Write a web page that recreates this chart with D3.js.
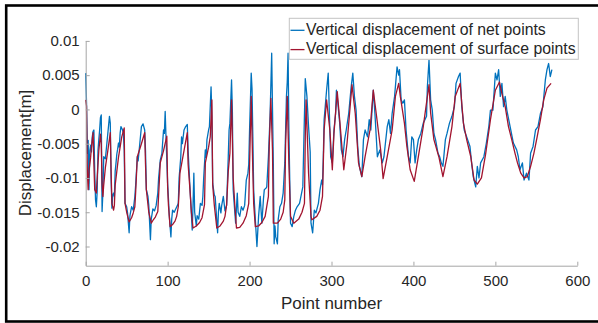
<!DOCTYPE html>
<html>
<head>
<meta charset="utf-8">
<script src="https://cdnjs.cloudflare.com/ajax/libs/d3/7.8.5/d3.min.js"></script>
<style>
body { margin: 0; background: #fff; }
text { font-family: "Liberation Sans", Arial, sans-serif; fill: #262626; }
</style>
</head>
<body>
<svg id="chart" width="598" height="323"></svg>
<script>
// [point number, displacement (m)]
var netPoints = [
  [0,0.0053],[1,0.0010],[2,-0.0064],[3,-0.0045],[4,-0.0117],[5,-0.0060],[6,-0.0052],[7,-0.0062],[8,-0.0040],[9,-0.0032],
  [10,-0.0030],[11,-0.0090],[12,-0.0132],[13,-0.0142],[14,-0.0120],[15,-0.0060],[16,-0.0044],[17,-0.0030],[18,-0.0012],[19,-0.0008],
  [20,-0.0149],[21,-0.0120],[22,-0.0069],[24,-0.0072],[25,-0.0060],[27,-0.0035],[29,-0.0010],[30,-0.0020],[31,-0.0100],[32,-0.0144],
  [33,-0.0125],[34,-0.0122],[35,-0.0127],[36,-0.0090],[37,-0.0078],[38,-0.0065],[39,-0.0058],[40,-0.0049],[41,-0.0055],[42,-0.0035],
  [43,-0.0025],[45,-0.0030],[46,-0.0035],[47,-0.0060],[48,-0.0137],[50,-0.0142],[51,-0.0150],[53,-0.0180],[54,-0.0155],[56,-0.0142],
  [58,-0.0147],[60,-0.0127],[61,-0.0110],[63,-0.0069],[64,-0.0075],[66,-0.0050],[68,-0.0025],[70,-0.0021],[72,-0.0030],[73,-0.0060],
  [74,-0.0117],[76,-0.0127],[77,-0.0140],[79,-0.0190],[80,-0.0160],[82,-0.0145],[84,-0.0148],[86,-0.0140],[88,-0.0122],[89,-0.0100],
  [91,-0.0074],[93,-0.0064],[95,-0.0030],[96,-0.0035],[97,-0.0003],[98,-0.0040],[100,-0.0108],[101,-0.0130],[102,-0.0155],[104,-0.0186],
  [105,-0.0160],[106,-0.0147],[108,-0.0150],[110,-0.0145],[112,-0.0140],[113,-0.0137],[114,-0.0100],[116,-0.0070],[117,-0.0040],[118,-0.0050],
  [120,-0.0030],[122,-0.0025],[124,-0.0022],[125,-0.0060],[127,-0.0108],[128,-0.0130],[130,-0.0176],[131,-0.0140],[132,-0.0093],[133,-0.0150],
  [135,-0.0170],[136,-0.0155],[138,-0.0160],[140,-0.0137],[142,-0.0140],[143,-0.0127],[144,-0.0100],[146,-0.0059],[147,-0.0070],[148,-0.0044],
  [150,-0.0030],[151,-0.0025],[153,0.0033],[154,-0.0010],[155,-0.0108],[157,-0.0125],[158,-0.0127],[161,-0.0180],[162,-0.0150],[163,-0.0137],
  [165,-0.0151],[166,-0.0140],[168,-0.0127],[170,-0.0148],[172,-0.0140],[174,-0.0069],[175,-0.0030],[176,-0.0020],[178,0.0043],[179,0.0000],
  [180,-0.0117],[182,-0.0150],[183,-0.0166],[185,-0.0122],[186,-0.0150],[188,-0.0156],[190,-0.0142],[192,-0.0147],[194,-0.0140],[196,-0.0103],
  [198,-0.0093],[199,-0.0080],[200,-0.0030],[202,0.0053],[203,0.0030],[204,-0.0040],[205,-0.0117],[207,-0.0160],[209,-0.0200],[211,-0.0156],
  [213,-0.0127],[215,-0.0166],[217,-0.0130],[218,-0.0117],[220,-0.0115],[221,-0.0113],[223,-0.0069],[225,-0.0010],[227,0.0082],[228,0.0000],
  [229,-0.0080],[230,-0.0196],[231,-0.0170],[232,-0.0186],[234,-0.0196],[235,-0.0160],[237,-0.0142],[239,-0.0137],[241,-0.0122],[243,-0.0078],
  [245,0.0019],[246,0.0040],[247,0.0082],[248,-0.0030],[249,-0.0100],[250,-0.0166],[252,-0.0171],[254,-0.0156],[256,-0.0147],[258,-0.0142],
  [261,-0.0137],[263,-0.0125],[265,-0.0113],[266,-0.0060],[268,0.0045],[270,0.0019],[272,-0.0025],[274,-0.0062],[275,-0.0166],[277,-0.0180],
  [279,-0.0147],[281,-0.0151],[284,-0.0137],[286,-0.0117],[288,-0.0103],[289,-0.0110],[290,-0.0070],[291,-0.0015],[294,0.0028],[296,0.0053],
  [298,-0.0030],[299,-0.0069],[301,-0.0078],[303,-0.0030],[305,-0.0006],[306,0.0028],[307,0.0019],[310,-0.0020],[312,-0.0059],[314,-0.0069],
  [316,-0.0044],[318,-0.0030],[321,-0.0006],[324,0.0033],[326,0.0053],[328,0.0019],[330,-0.0001],[332,-0.0054],[334,-0.0083],[337,-0.0098],
  [339,-0.0044],[341,-0.0030],[344,-0.0040],[346,-0.0015],[348,-0.0030],[351,0.0028],[353,-0.0006],[356,-0.0069],[359,-0.0059],[362,-0.0078],
  [364,-0.0069],[368,-0.0025],[370,-0.0015],[372,-0.0035],[374,-0.0006],[377,0.0019],[380,0.0062],[382,0.0050],[383,0.0058],[385,0.0014],
  [387,0.0009],[389,0.0014],[391,-0.0030],[394,-0.0069],[396,-0.0078],[398,-0.0040],[400,-0.0044],[402,-0.0078],[404,-0.0059],[406,-0.0044],
  [409,-0.0035],[412,-0.0020],[416,-0.0010],[417,0.0033],[419,0.0072],[421,0.0014],[423,-0.0001],[425,-0.0035],[427,-0.0044],[430,-0.0064],
  [432,-0.0069],[434,-0.0078],[436,-0.0083],[439,-0.0044],[441,-0.0035],[444,-0.0020],[447,-0.0010],[450,0.0004],[452,0.0038],[455,0.0048],
  [457,0.0053],[459,0.0004],[462,-0.0030],[465,-0.0040],[469,-0.0054],[471,-0.0078],[473,-0.0098],[476,-0.0113],[478,-0.0083],[480,-0.0100],
  [482,-0.0078],[486,-0.0069],[489,-0.0049],[492,-0.0025],[494,-0.0001],[497,-0.0001],[500,0.0053],[502,0.0043],[504,0.0058],[506,0.0019],
  [508,0.0038],[510,0.0004],[512,0.0019],[514,-0.0001],[518,-0.0025],[522,-0.0049],[526,-0.0059],[528,-0.0069],[530,-0.0088],[533,-0.0078],
  [535,-0.0103],[538,-0.0093],[541,-0.0103],[543,-0.0064],[546,-0.0054],[549,-0.0030],[552,-0.0025],[555,-0.0006],[558,0.0004],[561,0.0043],
  [563,0.0058],[565,0.0067],[567,0.0048],[569,0.0058]
];

var surfacePoints = [
  [0,0.0014],[1,0.0005],[2,-0.0090],[3,-0.0117],[4,-0.0090],[6,-0.0070],[7,-0.0055],[9,-0.0034],[10,-0.0080],[11,-0.0117],
  [13,-0.0122],[14,-0.0100],[16,-0.0060],[18,-0.0036],[19,-0.0050],[20,-0.0110],[21,-0.0127],[22,-0.0110],[24,-0.0085],[27,-0.0060],
  [30,-0.0034],[31,-0.0090],[32,-0.0137],[34,-0.0147],[35,-0.0140],[36,-0.0110],[40,-0.0070],[44,-0.0040],[47,-0.0027],[48,-0.0137],
  [50,-0.0150],[53,-0.0164],[56,-0.0158],[58,-0.0151],[60,-0.0142],[61,-0.0120],[63,-0.0069],[68,-0.0050],[72,-0.0034],[73,-0.0080],
  [74,-0.0117],[77,-0.0150],[80,-0.0166],[82,-0.0162],[85,-0.0157],[88,-0.0149],[89,-0.0125],[91,-0.0078],[95,-0.0060],[99,-0.0039],
  [100,-0.0113],[101,-0.0140],[103,-0.0171],[106,-0.0168],[109,-0.0163],[111,-0.0156],[113,-0.0142],[114,-0.0120],[115,-0.0093],[120,-0.0060],
  [124,-0.0034],[125,-0.0080],[127,-0.0113],[129,-0.0150],[131,-0.0173],[135,-0.0170],[139,-0.0165],[142,-0.0158],[145,-0.0139],[146,-0.0078],
  [150,-0.0055],[152,-0.0040],[154,0.0014],[155,-0.0110],[157,-0.0140],[160,-0.0173],[164,-0.0170],[168,-0.0163],[170,-0.0156],[172,-0.0139],
  [174,-0.0090],[176,-0.0064],[178,0.0014],[180,-0.0100],[182,-0.0140],[184,-0.0173],[188,-0.0172],[192,-0.0166],[196,-0.0155],[199,-0.0137],
  [200,-0.0080],[202,0.0019],[204,-0.0090],[205,-0.0137],[207,-0.0171],[211,-0.0170],[215,-0.0165],[219,-0.0156],[223,-0.0127],[224,-0.0054],
  [226,0.0016],[228,-0.0060],[229,-0.0166],[234,-0.0166],[238,-0.0160],[241,-0.0150],[243,-0.0132],[244,-0.0050],[246,0.0019],[248,-0.0080],
  [250,-0.0156],[254,-0.0166],[260,-0.0160],[264,-0.0150],[267,-0.0137],[268,-0.0040],[269,0.0014],[272,-0.0093],[275,-0.0156],[276,-0.0161],
  [282,-0.0156],[286,-0.0147],[289,-0.0127],[291,-0.0030],[294,0.0014],[298,-0.0030],[301,-0.0088],[303,-0.0035],[307,0.0026],[310,-0.0015],
  [315,-0.0088],[319,-0.0049],[325,0.0036],[329,-0.0006],[333,-0.0078],[337,-0.0098],[341,-0.0069],[347,-0.0030],[351,0.0028],[355,-0.0010],
  [360,-0.0059],[363,-0.0101],[368,-0.0069],[374,-0.0030],[378,0.0019],[382,0.0038],[384,0.0019],[389,-0.0020],[392,-0.0054],[396,-0.0088],
  [401,-0.0105],[406,-0.0069],[412,-0.0025],[419,0.0036],[421,-0.0005],[425,-0.0044],[431,-0.0069],[436,-0.0098],[441,-0.0069],[447,-0.0025],
  [451,0.0019],[457,0.0038],[461,-0.0020],[465,-0.0044],[470,-0.0069],[474,-0.0103],[478,-0.0109],[483,-0.0100],[488,-0.0066],[494,-0.0015],
  [500,0.0028],[505,0.0040],[508,0.0023],[512,0.0004],[516,-0.0025],[520,-0.0044],[524,-0.0064],[527,-0.0078],[531,-0.0093],[535,-0.0100],
  [539,-0.0098],[543,-0.0083],[547,-0.0064],[551,-0.0040],[555,-0.0015],[559,0.0014],[563,0.0031],[568,0.0038]
];

var seriesNames = ["Vertical displacement of net points", "Vertical displacement of surface points"];
var seriesColors = ["#0072bd", "#a2142f"];
var xTicks = [0, 100, 200, 300, 400, 500, 600];
var yTicks = [-0.02, -0.015, -0.01, -0.005, 0, 0.005, 0.01];
var yTickLabels = ["-0.02", "-0.015", "-0.01", "-0.005", "0", "0.005", "0.01"];
var xTitle = "Point number";
var yTitle = "Displacement[m]";

var svg = d3.select('svg#chart');

// figure frame (right side is cut off in the picture)
svg.append('rect')
  .attr('x', 6.2).attr('y', 5.5).attr('width', 700).attr('height', 316)
  .style('fill', 'none').style('stroke', '#000').style('stroke-width', '2.6px');

var x = d3.scaleLinear().domain([0, 600]).range([85.7, 577.3]);
var y = d3.scaleLinear().domain([-0.0228, 0.01]).range([265.7, 40.9]);

var line = d3.line()
  .x(function(d){ return x(d[0]); })
  .y(function(d){ return y(d[1]); });

var allSeries = [netPoints, surfacePoints];
for (var i = 0; i < allSeries.length; i += 1){
  svg.append('path')
    .attr('d', line(allSeries[i]))
    .style('fill', 'none')
    .style('stroke', seriesColors[i])
    .style('stroke-width', '1.3px')
    .style('stroke-linejoin', 'round');
}

// axes, MATLAB style: inward ticks, grey lines
var xAxis = d3.axisBottom(x).tickValues(xTicks).tickFormat(d3.format('d'))
  .tickSizeInner(-4).tickSizeOuter(0).tickPadding(10);
var yAxis = d3.axisLeft(y).tickValues(yTicks)
  .tickFormat(function(d, i){ return yTickLabels[i]; })
  .tickSizeInner(-4).tickSizeOuter(0).tickPadding(6);

var gx = svg.append('g').attr('transform', 'translate(0,265.7)').call(xAxis);
var gy = svg.append('g').attr('transform', 'translate(85.7,0)').call(yAxis);

[gx, gy].forEach(function(g){
  g.select('.domain').style('stroke', '#a6a6a6').style('stroke-width', '1px');
  g.selectAll('.tick line').style('stroke', '#a6a6a6');
  g.selectAll('.tick text').style('font-size', '15px').style('fill', '#262626')
    .style('font-family', '"Liberation Sans", Arial, sans-serif');
});

svg.append('text')
  .attr('x', 331.5).attr('y', 309)
  .attr('text-anchor', 'middle')
  .style('font-size', '17px')
  .text(xTitle);

svg.append('text')
  .attr('transform', 'translate(31,153) rotate(-90)')
  .attr('text-anchor', 'middle')
  .style('font-size', '17px')
  .text(yTitle);

// legend
var legend = svg.append('g');
legend.append('rect')
  .attr('x', 289.3).attr('y', 18.3).attr('width', 289).attr('height', 41)
  .style('fill', '#fff').style('stroke', '#c4c4c4').style('stroke-width', '1px');
for (var j = 0; j < seriesNames.length; j += 1){
  var ly = 30.3 + j * 19.3;
  legend.append('line')
    .attr('x1', 290.5).attr('x2', 304.5).attr('y1', ly).attr('y2', ly)
    .style('stroke', seriesColors[j]).style('stroke-width', '1.3px');
  legend.append('text')
    .attr('x', 306).attr('y', 34.6 + j * 19.3)
    .style('font-size', '15.8px')
    .text(seriesNames[j]);
}
</script>
</body>
</html>
